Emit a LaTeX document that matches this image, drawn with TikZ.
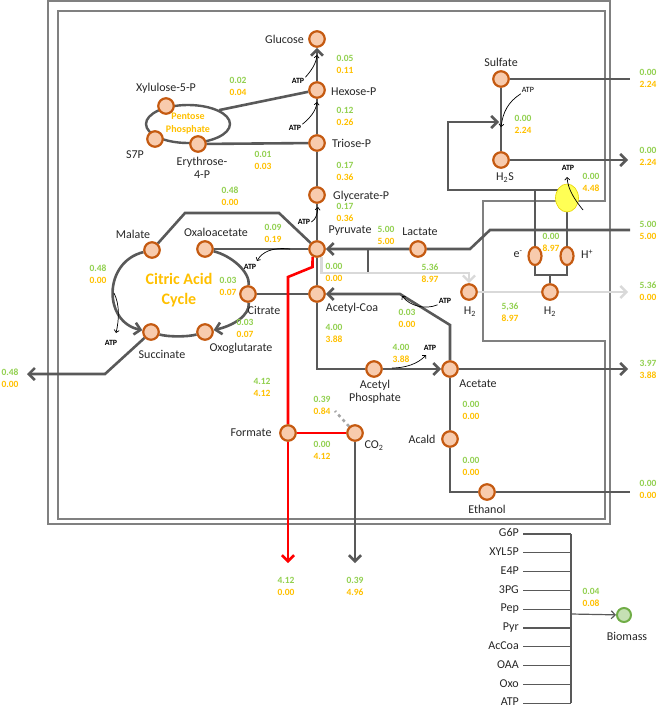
\documentclass[tikz,border=0pt]{standalone}
\usepackage{fontspec}
\setmainfont{Carlito}
\usetikzlibrary{arrows.meta,shapes.geometric,backgrounds}

\definecolor{flowgray}{HTML}{595959}
\definecolor{lightflow}{HTML}{D9D9D9}
\definecolor{dotgray}{HTML}{A6A6A6}
\definecolor{metedge}{HTML}{C55A11}
\definecolor{metfill}{HTML}{F8CBAD}
\definecolor{fluxgreen}{HTML}{92D050}
\definecolor{fluxorange}{HTML}{FFC000}
\definecolor{framegray}{HTML}{808080}
\definecolor{textgray}{HTML}{262626}
\definecolor{atpyellow}{HTML}{FFFF55}
\definecolor{atpedge}{HTML}{E6D200}
\definecolor{bioedge}{HTML}{70AD47}
\definecolor{biofill}{HTML}{C5E0B4}

\newcommand{\fluxpair}[2]{\textcolor{fluxgreen}{#1}\\\textcolor{fluxorange}{#2}}

\begin{document}
\begin{tikzpicture}[
    x=1pt, y=-1pt,
    text=textgray,
    met/.style={circle, draw=metedge, fill=metfill, line width=2.2pt, minimum size=15.5pt, inner sep=0pt},
    ion/.style={ellipse, draw=metedge, fill=metfill, line width=2.2pt, minimum width=13pt, minimum height=18pt, inner sep=0pt},
    atpase/.style={ellipse, draw=atpedge, fill=atpyellow, line width=0.6pt, minimum width=23pt, minimum height=28pt, inner sep=0pt},
    biomass/.style={circle, draw=bioedge, fill=biofill, line width=2pt, minimum size=14pt, inner sep=0pt},
    pentose/.style={ellipse, draw=flowgray, line width=2.4pt, minimum width=84pt, minimum height=38pt, inner sep=0pt,
        text=fluxorange, align=center, font=\fontsize{10}{13}\selectfont\bfseries},
    cycletext/.style={text=fluxorange, align=center, font=\fontsize{16}{19.5}\selectfont\bfseries},
    lab/.style={inner sep=1pt, align=center, font=\fontsize{12}{13.5}\selectfont},
    flux/.style={inner sep=0pt, align=center, font=\fontsize{9.5}{12}\selectfont\bfseries},
    atp/.style={inner sep=1pt, text=black, font=\fontsize{8}{9}\selectfont\bfseries},
    flow/.style={draw=flowgray, line width=2.6pt},
    light/.style={draw=lightflow, line width=2.4pt},
    redflow/.style={draw=red, line width=2.6pt},
    dotflow/.style={draw=dotgray, line width=2.6pt, dash pattern=on 3pt off 3.5pt},
    head/.style={-{Straight Barb[length=6pt, width=12pt]}},
    atparrow/.style={draw=black, line width=0.7pt, -{Straight Barb[length=2.5pt, width=5pt]}},
    frame/.style={draw=framegray, line width=1.2pt},
    bline/.style={draw=flowgray, line width=1.2pt}
]
\useasboundingbox (0,0) rectangle (659,709);

% Cell frames
\begin{pgfonlayer}{background}
\draw[frame] (48,1) rectangle (610,524);
\draw[frame] (58,11) -- (605,11) -- (605,201) -- (483,201) -- (483,341) -- (605,341) -- (605,519) -- (58,519) -- cycle;
\end{pgfonlayer}

% Glycolysis
\node[met] (glc) at (317,39) {};
\node[lab, anchor=east] (glc-l) at (305,39) {Glucose};
\node[met] (hexp) at (317,90) {};
\node[lab, anchor=west] (hexp-l) at (330,92) {Hexose-P};
\node[met] (triop) at (317,143) {};
\node[lab, anchor=west] (triop-l) at (331,143) {Triose-P};
\node[met] (glyp) at (317,195) {};
\node[lab, anchor=west] (glyp-l) at (332,196) {Glycerate-P};
\node[met] (pyr) at (317,249) {};
\node[lab] (pyr-l) at (350,231) {Pyruvate};
\node[met] (accoa) at (317,294) {};
\node[lab] (accoa-l) at (352,308) {Acetyl-Coa};

% Pentose phosphate
\node[pentose] (ppp) at (188,124) {Pentose\\Phosphate};
\node[met] (xyl) at (166,106) {};
\node[lab] (xyl-l) at (166,88) {Xylulose-5-P};
\node[met] (s7p) at (155,139) {};
\node[lab] (s7p-l) at (135,155) {S7P};
\node[met] (e4p) at (198,144) {};
\node[lab] (e4p-l) at (202,168) {Erythrose-\\4-P};

% Citric acid cycle
\node[cycletext] (tca) at (179,290) {Citric Acid\\Cycle};
\node[met] (mal) at (152,250) {};
\node[lab] (mal-l) at (133,234) {Malate};
\node[met] (oaa) at (205,249) {};
\node[lab] (oaa-l) at (216,232) {Oxaloacetate};
\node[met] (cit) at (248,294) {};
\node[lab] (cit-l) at (264,310) {Citrate};
\node[met] (oxo) at (205,332) {};
\node[lab] (oxo-l) at (241,348) {Oxoglutarate};
\node[met] (succ) at (151,332) {};
\node[lab] (succ-l) at (162,354) {Succinate};

% Fermentation products
\node[met] (lac) at (418,249) {};
\node[lab] (lac-l) at (420,232) {Lactate};
\node[met] (acp) at (374,369) {};
\node[lab] (acp-l) at (375,392) {Acetyl\\Phosphate};
\node[met] (ace) at (450,369) {};
\node[lab] (ace-l) at (478,384) {Acetate};
\node[met] (acald) at (450,439) {};
\node[lab] (acald-l) at (422,439) {Acald};
\node[met] (etoh) at (487,492) {};
\node[lab] (etoh-l) at (487,509) {Ethanol};
\node[met] (form) at (288,433) {};
\node[lab] (form-l) at (251,433) {Formate};
\node[met] (co2) at (355,433) {};
\node[lab] (co2-l) at (374,446) {CO\textsubscript{2}};

% Hydrogen and sulfur
\node[met] (h2a) at (469,292) {};
\node[lab] (h2a-l) at (470,312) {H\textsubscript{2}};
\node[met] (h2b) at (550,292) {};
\node[lab] (h2b-l) at (550,312) {H\textsubscript{2}};
\node[ion] (elec) at (535,256) {};
\node[lab] (elec-l) at (518,254) {e\textsuperscript{-}};
\node[ion] (prot) at (567,256) {};
\node[lab] (prot-l) at (587,254) {H\textsuperscript{+}};
\node[atpase] (atpsyn) at (567,198) {};
\node[met] (sulf) at (501,79) {};
\node[lab] (sulf-l) at (501,62) {Sulfate};
\node[met] (hs) at (501,160) {};
\node[lab] (hs-l) at (505,178) {H\textsubscript{2}S};

% Biomass
\node[biomass] (bio) at (624,615) {};
\node[lab] (bio-l) at (627,636) {Biomass};

% Bend points and open ends
\coordinate (mal1) at (185,213);
\coordinate (mal2) at (279,213);
\coordinate (succ1) at (105,374);
\coordinate (succout) at (27,374);
\coordinate (lacin) at (630,230);
\coordinate (lac1) at (490,230);
\coordinate (lac2) at (470,249);
\coordinate (stub1) at (368,249);
\coordinate (stub2) at (368,273);
\coordinate (h2turn) at (469,273);
\coordinate (h2out) at (628,292);
\coordinate (brl) at (535,275);
\coordinate (brr) at (567,275);
\coordinate (brm) at (550,275);
\coordinate (loop1) at (535,190);
\coordinate (loop2) at (448,190);
\coordinate (loop3) at (448,122);
\coordinate (loopend) at (499,122);
\coordinate (sulfout) at (630,79);
\coordinate (hsout) at (628,160);
\coordinate (aceout) at (628,369);
\coordinate (ace1) at (450,325);
\coordinate (ace2) at (400,294);
\coordinate (etohout) at (630,492);
\coordinate (red1) at (312.5,267);
\coordinate (red2) at (288,277);
\coordinate (formout) at (288,563);
\coordinate (co2out) at (355,563);
\coordinate (co2dot) at (335,411);

% Pathways
\begin{pgfonlayer}{background}
\draw[flow, head] (hexp) -- (glc);
\draw[flow] (triop) -- (hexp);
\draw[flow] (glyp) -- (triop);
\draw[flow] (pyr) -- (glyp);
\draw[flow] (pyr) -- (accoa);
\draw[flow] (ppp.24) -- (hexp);
\draw[flow] (e4p) -- (triop);
\draw[flow] (mal) -- (mal1) -- (mal2) -- (pyr);
\draw[flow] (pyr) -- (oaa);
\draw[flow] (accoa) -- (cit);
\draw[flow] (oaa) .. controls (232,256) and (250,272) .. (cit);
\draw[flow, head] (cit) .. controls (250,316) and (232,326) .. (oxo);
\draw[flow] (oxo) .. controls (188,337) and (168,337) .. (succ);
\draw[flow, head] (mal) .. controls (103,262) and (103,322) .. (succ);
\draw[flow, head] (succ) -- (succ1) -- (succout);
\draw[flow, head] (lacin) -- (lac1) -- (lac2) -- (lac) -- (pyr);
\draw[flow] (stub1) -- (stub2);
\draw[light, head] (pyr.-60) |- (h2turn) -- (h2a);
\draw[light, head] (h2a) -- (h2b) -- (h2out);
\draw[flow] (elec) -- (brl) -- (brr) -- (prot);
\draw[flow] (brm) -- (h2b);
\draw[flow] (prot) -- (atpsyn);
\draw[flow, head] (elec) -- (loop1) -- (loop2) -- (loop3) -- (loopend);
\draw[flow] (loop1) -- (loop1 -| atpsyn);
\draw[flow] (sulf) -- (sulfout);
\draw[flow] (sulf) -- (hs);
\draw[flow, head] (hs) -- (hsout);
\draw[flow] (accoa) |- (acp);
\draw[flow, head] (acp) -- (ace);
\draw[flow, head] (ace) -- (aceout);
\draw[flow, head] (ace) -- (ace1) -- (ace2) -- (accoa);
\draw[flow] (ace) -- (acald);
\draw[flow] (acald) |- (etoh);
\draw[flow] (etoh) -- (etohout);
\draw[redflow] (pyr.-120) -- (red1) -- (red2) -- (form);
\draw[redflow, head] (form) -- (formout);
\draw[redflow] (form) -- (co2);
\draw[dotflow] (co2) -- (co2dot);
\draw[flow, head] (co2) -- (co2out);
\end{pgfonlayer}

% ATP arrows
\node[atp] (atp1) at (298,81) {ATP};
\coordinate (t1) at (317,55);
\draw[atparrow] (atp1.north east) .. controls (311,71) and (316,64) .. (t1);
\node[atp] (atp2) at (295,128) {ATP};
\coordinate (t2) at (317,102);
\draw[atparrow] (atp2.north east) .. controls (310,118) and (316,111) .. (t2);
\node[atp] (atp3) at (304,222) {ATP};
\coordinate (t3) at (318,207);
\draw[atparrow] (atp3.east) .. controls (316,219) and (317,215) .. (t3);
\node[atp] (atp4) at (250,267) {ATP};
\coordinate (s4) at (290,249);
\coordinate (t4) at (257,261);
\draw[atparrow] (s4) .. controls (272,247) and (262,252) .. (t4);
\node[atp] (atp5) at (111,343) {ATP};
\coordinate (s5) at (114,293);
\coordinate (t5) at (116,333);
\draw[atparrow] (s5) .. controls (120,305) and (119,320) .. (t5);
\node[atp, font=\fontsize{8}{9}\selectfont] (atp6) at (528,90) {ATP};
\coordinate (t6) at (501,127);
\draw[atparrow] (atp6.south west) .. controls (508,102) and (503,112) .. (t6);
\node[atp] (atp7) at (568,168) {ATP};
\coordinate (s7) at (583,210);
\coordinate (t7) at (567,177);
\draw[atparrow] (s7) .. controls (575,200) and (568,190) .. (t7);
\node[atp] (atp8) at (445,301) {ATP};
\coordinate (t8) at (402,296);
\draw[atparrow] (atp8.south west) .. controls (425,310) and (410,306) .. (t8);
\node[atp] (atp9) at (430,348) {ATP};
\coordinate (s9) at (392,368);
\coordinate (t9) at (426,355);
\draw[atparrow] (s9) .. controls (405,368) and (418,364) .. (t9);

% Fluxes
\node[flux] (f-glc) at (345,64) {\fluxpair{0.05}{0.11}};
\node[flux] (f-hexp) at (345,116) {\fluxpair{0.12}{0.26}};
\node[flux] (f-triop) at (345,171) {\fluxpair{0.17}{0.36}};
\node[flux] (f-glyp) at (345,212.5) {\fluxpair{0.17}{0.36}};
\node[flux] (f-xyl) at (238,86) {\fluxpair{0.02}{0.04}};
\node[flux] (f-e4p) at (263,160) {\fluxpair{0.01}{0.03}};
\node[flux] (f-mal) at (230,196) {\fluxpair{0.48}{0.00}};
\node[flux] (f-oaa) at (273,233) {\fluxpair{0.09}{0.19}};
\node[flux] (f-tca) at (98,274) {\fluxpair{0.48}{0.00}};
\node[flux] (f-cit) at (228,286) {\fluxpair{0.03}{0.07}};
\node[flux] (f-oxo) at (245,328) {\fluxpair{0.03}{0.07}};
\node[flux] (f-succ) at (10,378) {\fluxpair{0.48}{0.00}};
\node[flux] (f-red) at (262,387) {\fluxpair{4.12}{4.12}};
\node[flux] (f-co2in) at (322,405) {\fluxpair{0.39}{0.84}};
\node[flux] (f-fco2) at (322,450) {\fluxpair{0.00}{4.12}};
\node[flux] (f-formout) at (286,586) {\fluxpair{4.12}{0.00}};
\node[flux] (f-co2out) at (355,586) {\fluxpair{0.39}{4.96}};
\node[flux] (f-lac) at (386,235) {\fluxpair{5.00}{5.00}};
\node[flux] (f-pyrh2) at (334,272) {\fluxpair{0.00}{0.00}};
\node[flux] (f-h2a) at (430,273) {\fluxpair{5.36}{8.97}};
\node[flux] (f-acet) at (407,318) {\fluxpair{0.03}{0.00}};
\node[flux] (f-accoa) at (334,333) {\fluxpair{4.00}{3.88}};
\node[flux] (f-acp) at (401,353) {\fluxpair{4.00}{3.88}};
\node[flux] (f-ace) at (471,410) {\fluxpair{0.00}{0.00}};
\node[flux] (f-acald) at (471,466) {\fluxpair{0.00}{0.00}};
\node[flux] (f-h2b) at (510,312) {\fluxpair{5,36}{8.97}};
\node[flux] (f-ion) at (551,242) {\fluxpair{0.00}{8.97}};
\node[flux] (f-atpsyn) at (591,182) {\fluxpair{0.00}{4.48}};
\node[flux] (f-sulf) at (523,124) {\fluxpair{0.00}{2.24}};
\node[flux] (f-sulfout) at (648,78) {\fluxpair{0.00}{2.24}};
\node[flux] (f-hsout) at (648,156) {\fluxpair{0.00}{2.24}};
\node[flux] (f-lacin) at (648,230) {\fluxpair{5.00}{5.00}};
\node[flux] (f-h2out) at (648,291) {\fluxpair{5.36}{0.00}};
\node[flux] (f-aceout) at (648,369) {\fluxpair{3.97}{3.88}};
\node[flux] (f-etohout) at (648,489) {\fluxpair{0.00}{0.00}};
\node[flux] (f-bio) at (591,597) {\fluxpair{0.04}{0.08}};

% Biomass precursors
\coordinate (bxtop) at (571,534);
\foreach \m [count=\i] in {G6P,XYL5P,E4P,3PG,Pep,Pyr,AcCoa,OAA,Oxo,ATP}{
    \node[lab, anchor=east, text height=8pt, text depth=2.5pt] (bm\i) at (520,{515.2+18.8*\i}) {\m};
    \draw[bline] ([xshift=3pt]bm\i.east) -- (bm\i.east -| bxtop);
}
\draw[bline] (bm1.east -| bxtop) -- (bm10.east -| bxtop);
\coordinate (bj) at (571,614);
\draw[bline, -{Straight Barb[length=4pt, width=8pt]}] (bj) -- (bio);

\end{tikzpicture}
\end{document}
